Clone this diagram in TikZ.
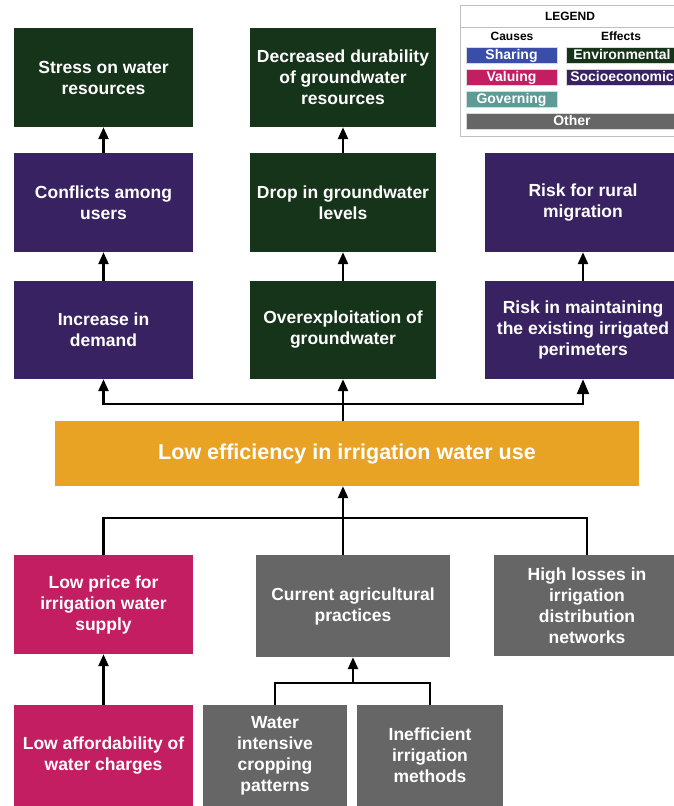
\documentclass[tikz,border=0pt]{standalone}
\usepackage{fontspec}
\setmainfont{Liberation Sans}
\usetikzlibrary{arrows.meta}
\definecolor{envgreen}{HTML}{163419}
\definecolor{socpurple}{HTML}{382261}
\definecolor{goldbar}{HTML}{E8A324}
\definecolor{valpink}{HTML}{C41E63}
\definecolor{othergray}{HTML}{666666}
\definecolor{sharblue}{HTML}{3A4DA8}
\definecolor{govteal}{HTML}{5E9B97}
\begin{document}
\begin{tikzpicture}[x=1pt,y=-1pt,
  box/.style={rectangle, inner sep=0pt, text=white, align=center,
    font=\bfseries\fontsize{17.5}{21}\selectfont},
  env/.style={box, fill=envgreen},
  soc/.style={box, fill=socpurple},
  val/.style={box, fill=valpink},
  oth/.style={box, fill=othergray},
  conn/.style={line width=2.4pt, draw=black, line join=miter},
  arr/.style={conn, -{Triangle[length=12pt,width=10pt]}},
  bigarr/.style={conn, -{Triangle[length=15pt,width=12pt]}},
  legbox/.style={rectangle, inner sep=0pt, text=white, draw=black!15, line width=0.8pt,
    minimum height=16pt, text height=11pt, text depth=2pt,
    font=\bfseries\fontsize{14}{16}\selectfont},
  leghead/.style={inner sep=0pt, text=black, font=\bfseries\fontsize{12}{14}\selectfont}
]
\useasboundingbox (0,0) rectangle (673,806);
\fill[white] (0,0) rectangle (673,806);

% Row 1
\node[env, minimum width=179pt, minimum height=99pt] (stress) at (103.5,77.5) {Stress on water\\resources};
\node[env, minimum width=186pt, minimum height=99pt] (durab) at (343,77.5) {Decreased durability\\of groundwater\\resources};
% Row 2
\node[soc, minimum width=179pt, minimum height=99pt] (conflicts) at (103.5,202.5) {Conflicts among\\users};
\node[env, minimum width=186pt, minimum height=99pt] (drop) at (343,202.5) {Drop in groundwater\\levels};
\node[soc, minimum width=196pt, minimum height=99pt] (rural) at (583,202.5) {Risk for rural\\migration};
% Row 3
\node[soc, minimum width=179pt, minimum height=98pt] (demand) at (103.5,330) {Increase in\\demand};
\node[env, minimum width=186pt, minimum height=98pt] (overexp) at (343,330) {Overexploitation of\\groundwater};
\node[soc, minimum width=196pt, minimum height=98pt] (maintain) at (583,330) {Risk in maintaining\\the existing irrigated\\perimeters};
% Gold bar
\node[box, fill=goldbar, minimum width=584pt, minimum height=65pt,
  font=\bfseries\fontsize{21.5}{25}\selectfont] (gold) at (347,453.5) {Low efficiency in irrigation water use};
% Row 4
\node[val, minimum width=179pt, minimum height=99pt] (lowprice) at (103.5,604.5) {Low price for\\irrigation water\\supply};
\node[oth, minimum width=194pt, minimum height=102pt] (current) at (353,606) {Current agricultural\\practices};
\node[oth, minimum width=186pt, minimum height=101pt] (losses) at (587,605.5) {High losses in\\irrigation\\distribution\\networks};
% Row 5
\node[val, minimum width=179pt, minimum height=101pt] (afford) at (103.5,755.5) {Low affordability of\\water charges};
\node[oth, minimum width=144pt, minimum height=101pt] (water) at (275,755.5) {Water\\intensive\\cropping\\patterns};
\node[oth, minimum width=146pt, minimum height=101pt] (ineff) at (430,755.5) {Inefficient\\irrigation\\methods};

% Branch coordinates
\coordinate (ub) at (343,404);
\coordinate (lb) at (343,518);
\coordinate (rb) at (353,683);

% Upper connectors
\draw[arr] (conflicts.north) -- (stress.south);
\draw[arr] (drop.north) -- (durab.south);
\draw[arr] (demand.north) -- (conflicts.south);
\draw[arr] (overexp.north) -- (drop.south);
\draw[arr] (maintain.north) -- (rural.south);
\draw[arr] (gold.north -| overexp.south) -- (overexp.south);
\draw[arr] (maintain.south |- ub) -- (demand.south |- ub) -- (demand.south);
\draw[bigarr] (demand.south |- ub) -- (maintain.south |- ub) -- (maintain.south);

% Lower connectors
\draw[conn] (lowprice.north) -- (lowprice.north |- lb) -- (losses.north |- lb) -- (losses.north);
\draw[arr] (current.north -| overexp.south) -- (gold.south -| overexp.south);
\draw[arr] (afford.north) -- (lowprice.south);
\draw[conn] (water.north) -- (water.north |- rb) -- (ineff.north |- rb) -- (ineff.north);
\draw[arr] (current.south |- rb) -- (current.south);

% Legend
\draw[draw=black!25, line width=0.8pt] (460,5) rectangle (680,136);
\draw[draw=black!25, line width=0.8pt] (460,27) -- (680,27);
\node[leghead] (legtitle) at (570,16) {LEGEND};
\node[leghead] (causes) at (512,36.5) {Causes};
\node[leghead] (effects) at (621,36.5) {Effects};
\node[legbox, fill=sharblue, minimum width=91pt] (sharing) at (511.5,55) {Sharing};
\node[legbox, fill=valpink, minimum width=91pt] (valuing) at (511.5,77) {Valuing};
\node[legbox, fill=govteal, minimum width=91pt] (governing) at (511.5,99) {Governing};
\node[legbox, fill=envgreen, minimum width=112pt] (environmental) at (622,55) {Environmental};
\node[legbox, fill=socpurple, minimum width=112pt] (socio) at (622,77) {Socioeconomic};
\node[legbox, fill=othergray, minimum width=212pt] (other) at (572,121) {Other};
\end{tikzpicture}
\end{document}
